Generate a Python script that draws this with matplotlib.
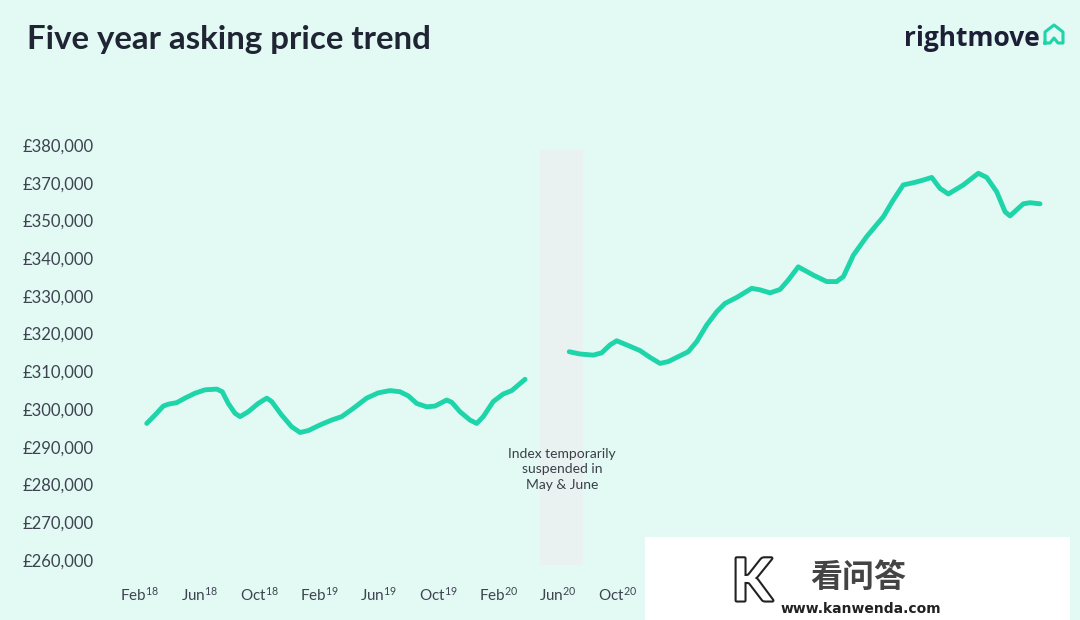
# Rightmove five year asking price trend, rebuilt with matplotlib.
import matplotlib
matplotlib.use('Agg')
import matplotlib.pyplot as plt
import matplotlib.patheffects as pe
from matplotlib.patches import Rectangle
from matplotlib.lines import Line2D

# months since Feb 2018 (x) and asking price on the chart's even grid (y)
seg1_month = [0.45, 1.00, 1.56, 1.90, 2.46, 3.01, 3.68, 4.35, 5.14, 5.51, 5.91, 6.36,
              6.70, 7.25, 7.92, 8.49, 8.82, 9.49, 10.16, 10.72, 11.27, 12.06, 12.84,
              13.51, 14.29, 15.18, 15.96, 16.74, 17.41, 17.97, 18.53, 19.20, 19.76,
              20.54, 20.88, 21.43, 22.10, 22.55, 22.99, 23.66, 24.33, 24.90, 25.79]
seg1_price = [296200, 298400, 300800, 301300, 301700, 302900, 304200, 305100, 305300,
              304600, 301500, 298900, 298000, 299300, 301500, 302900, 302000, 298400,
              295300, 293800, 294300, 295800, 297100, 298000, 300200, 302900, 304300,
              304900, 304600, 303500, 301500, 300600, 300800, 302400, 301800, 299300,
              297100, 296200, 298000, 302000, 304000, 304900, 307900]

seg2_month = [28.75, 29.47, 30.36, 30.92, 31.48, 31.93, 32.60, 33.49, 34.16, 34.83,
              35.39, 35.95, 36.72, 37.29, 37.96, 38.63, 39.18, 39.97, 40.97, 41.53,
              42.20, 42.87, 43.42, 44.09, 45.10, 45.99, 46.66, 47.11, 47.78, 48.67,
              49.79, 50.45, 51.12, 51.91, 52.46, 53.03, 53.58, 54.14, 55.14, 56.15,
              56.71, 57.38, 57.94, 58.27, 59.16, 59.61, 60.28]
seg2_price = [315200, 314600, 314300, 314900, 317000, 318100, 317000, 315500, 313700,
              312100, 312600, 313700, 315200, 317900, 322300, 325800, 328000, 329600,
              332000, 331600, 330800, 331700, 334200, 337700, 335500, 333800, 333800,
              335100, 340800, 345700, 351000, 355400, 359400, 360100, 360700, 361400,
              358500, 357000, 359400, 362500, 361400, 357600, 352300, 351200, 354400,
              354700, 354400]

# y ticks as printed on the original (note: no 360,000 label)
ytick_vals = [260000, 270000, 280000, 290000, 300000, 310000, 320000, 330000,
              340000, 350000, 360000, 370000]
ytick_labels = ['£260,000', '£270,000', '£280,000', '£290,000', '£300,000', '£310,000',
                '£320,000', '£330,000', '£340,000', '£350,000', '£370,000', '£380,000']

# only the month labels left of the watermark are visible in the source
xtick_vals = [0, 4, 8, 12, 16, 20, 24, 28, 32]
xtick_labels = [r'Feb$^{18}$', r'Jun$^{18}$', r'Oct$^{18}$', r'Feb$^{19}$', r'Jun$^{19}$',
                r'Oct$^{19}$', r'Feb$^{20}$', r'Jun$^{20}$', r'Oct$^{20}$']

suspended = (26.8, 29.7)          # month range of the grey band
suspended_y = (258700, 368700)

BG = '#e3faf4'
TEAL = '#1ed4a9'
NAVY = '#1c1f36'
GREY_TXT = '#3d4450'

plt.rcParams['font.family'] = ['Lato', 'DejaVu Sans']
plt.rcParams['mathtext.fontset'] = 'custom'
plt.rcParams['mathtext.rm'] = 'Lato'
plt.rcParams['mathtext.it'] = 'Lato'
plt.rcParams['mathtext.bf'] = 'Lato:bold'

fig = plt.figure(figsize=(10.8, 6.2), dpi=100, facecolor=BG)
ax = fig.add_axes([110 / 1080, 45 / 620, 950 / 1080, 445 / 620])
ax.set_facecolor(BG)

ax.add_patch(Rectangle((suspended[0], suspended_y[0]), suspended[1] - suspended[0],
                       suspended_y[1] - suspended_y[0], facecolor='#e9f2f0',
                       edgecolor='none', zorder=1))
ax.text(sum(suspended) / 2, 284000, 'Index temporarily\nsuspended in\nMay & June',
        ha='center', va='center', fontsize=10, color='#3a3f48', linespacing=1.35,
        zorder=3)

for xs, ys in [(seg1_month, seg1_price), (seg2_month, seg2_price)]:
    ax.plot(xs, ys, color=TEAL, lw=3.5, solid_capstyle='round',
            solid_joinstyle='round', zorder=4)

ax.set_xlim(-2.01, 61.62)
ax.set_ylim(256024, 373967)
ax.set_yticks(ytick_vals)
ax.set_yticklabels(ytick_labels)
ax.set_xticks(xtick_vals)
ax.set_xticklabels(xtick_labels)
ax.tick_params(axis='y', length=0, pad=12, labelsize=12, labelcolor=GREY_TXT)
ax.tick_params(axis='x', length=0, pad=8, labelsize=11, labelcolor=GREY_TXT)
for s in ax.spines.values():
    s.set_visible(False)

fig.text(27 / 1080, 1 - 40 / 620, 'Five year asking price trend', fontsize=23.8,
         fontweight='bold', color='#1f2533', va='center', ha='left')

# rightmove logo
fig.text(1040 / 1080, 1 - 39 / 620, 'rightmove', fontsize=19, fontweight='bold',
         color=NAVY, va='center', ha='right', family=['Open Sans', 'DejaVu Sans'])
hx = [1045, 1045, 1054, 1063, 1063, 1058, 1054, 1050, 1045]
hy = [43, 32, 25, 32, 43, 43, 38, 43, 43]
fig.add_artist(Line2D([v / 1080 for v in hx], [1 - v / 620 for v in hy],
                      color=TEAL, lw=2.2, solid_joinstyle='round',
                      transform=fig.transFigure))

# watermark box sitting over the lower right of the original image
fig.add_artist(Rectangle((645 / 1080, 0), 425 / 1080, 83 / 620, facecolor='white',
                         edgecolor='none', transform=fig.transFigure, zorder=10))
fig.text(752 / 1080, 1 - 584 / 620, 'K', fontsize=42, fontweight='bold', color='white',
         ha='center', va='center', zorder=11,
         path_effects=[pe.withStroke(linewidth=3, foreground='#222222')])
fig.text(858 / 1080, 1 - 578 / 620, '看问答', fontsize=23, fontweight='bold',
         color='#444444', ha='center', va='center', zorder=11,
         family=['Noto Sans CJK SC', 'DejaVu Sans'])
fig.text(781 / 1080, 1 - 609 / 620, 'www.kanwenda.com', fontsize=10, fontweight='bold',
         color='#222222', ha='left', va='center', zorder=11,
         family=['DejaVu Sans'])

fig.savefig('out.png', dpi=100, facecolor=BG)
